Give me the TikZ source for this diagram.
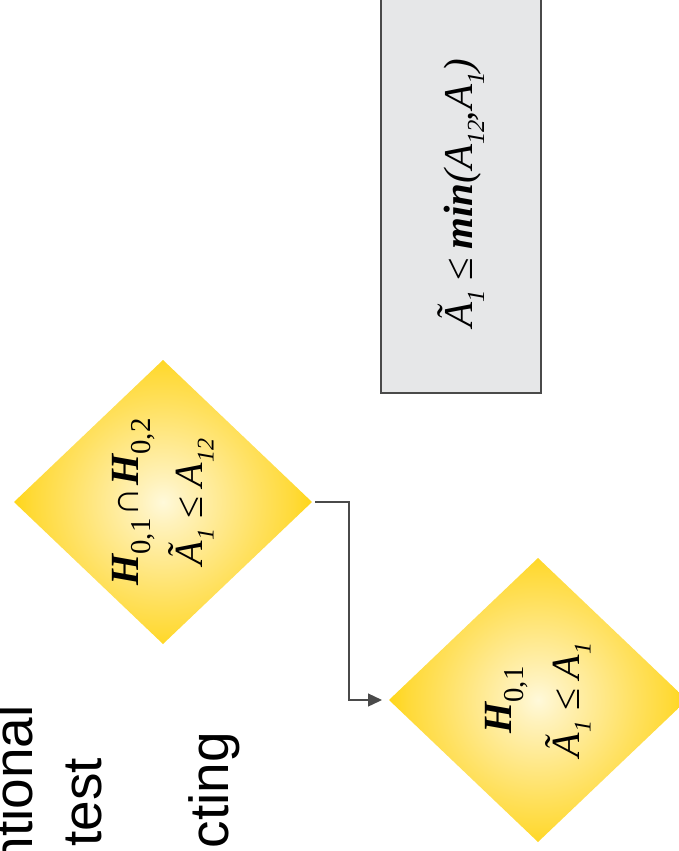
\documentclass[tikz,border=0pt]{standalone}
\usepackage{fontspec}
\setmainfont{Liberation Serif}
\newfontfamily\labelsans{Liberation Sans}
\usetikzlibrary{shapes.geometric,arrows.meta}

\definecolor{glowA}{HTML}{FFF9DA}
\definecolor{glowB}{HTML}{FFF2BC}
\definecolor{glowC}{HTML}{FFE98E}
\definecolor{glowD}{HTML}{FFE05C}
\definecolor{glowE}{HTML}{FFDA38}
\definecolor{glowF}{HTML}{FFD618}
\definecolor{boxfill}{HTML}{E6E7E8}
\definecolor{edgegray}{HTML}{4A4A4A}

% soft golden glow for the decision diamonds, at its natural size
\pgfdeclareradialshading{goldglow}{\pgfpoint{0bp}{0bp}}{%
  color(0bp)=(glowA); color(22bp)=(glowB); color(60bp)=(glowC);
  color(100bp)=(glowD); color(130bp)=(glowE); color(149bp)=(glowF);
  color(215bp)=(glowF)}

% lowered small figure for indices
\newcommand\idx[1]{\raisebox{-0.28em}{\fontsize{0.6em}{0.7em}\selectfont\itshape #1}}
\newcommand\idxup[1]{\raisebox{-0.3em}{\upshape\fontsize{0.72em}{0.8em}\selectfont #1}}
\newcommand\lesym{{\upshape\char"2264}}
\newcommand\capsym{{\upshape\char"2229}}
\newcommand\var[1]{\textit{#1}}

\begin{document}
\begin{tikzpicture}[x=1pt,y=-1pt,
  decision/.style={diamond, draw=none,
    minimum width=298pt, minimum height=284pt, inner sep=0pt, outer sep=0pt},
  glow/.style={inner sep=0pt, outer sep=0pt},
  formula/.style={rotate=90, align=center, inner sep=0pt,
    font=\fontsize{40}{72}\selectfont\itshape},
  sidetext/.style={rotate=90, inner sep=0pt, anchor=base east,
    font=\labelsans\fontsize{55}{60}\selectfont},
  conn/.style={draw=edgegray, line width=1.3pt},
  bound/.style={draw=edgegray, line width=1.3pt, fill=boxfill}]
\useasboundingbox (0,0) rectangle (679,851);

% partially visible labels on the left
\node[sidetext] (lblA) at (32,705) {ntional};
\node[sidetext] (lblB) at (101,758) {test};
\node[sidetext] (lblC) at (228,732) {cting};

% bound box at the top right
\draw[bound] (381,-5) rectangle (541,393);
\node[formula, font=\fontsize{41}{48}\selectfont\itshape] (bound) at (461,193)
  {\var{\~{A}}\idx{1}\kern9pt\lesym\kern9pt\textbf{min}(\var{A}\idx{12}\kern-1pt,\kern1pt\var{A}\idx{1})};

% decision diamonds (outlines only give the anchors)
\node[decision] (d1) at (163,502) {};
\node[decision] (d2) at (538,700) {};

% fill each diamond with the glow
\foreach \d in {d1,d2}{
  \begin{scope}
    \clip (\d.north) -- (\d.east) -- (\d.south) -- (\d.west) -- cycle;
    \node[glow] at (\d.center) {\pgfuseshading{goldglow}};
  \end{scope}
}

\node[formula] (t1) at (d1.center)
  {\textbf{H}\idxup{0,1}\kern2pt\capsym\kern2pt\textbf{H}\idxup{0,2}\\[-8pt]
   \var{\~{A}}\idx{1} \lesym{} \var{A}\idx{12}};
\node[formula] (t2) at (d2.center)
  {\textbf{H}\idxup{0,1}\\[-4pt]
   \var{\~{A}}\idx{1} \lesym{} \var{A}\idx{1}};

% connector between the diamonds
\draw[conn, shorten <=3pt, shorten >=7pt,
  -{Triangle[length=14pt,width=13pt]}]
  (d1.east) -- ++(37,0) |- (d2.west);
\end{tikzpicture}
\end{document}
